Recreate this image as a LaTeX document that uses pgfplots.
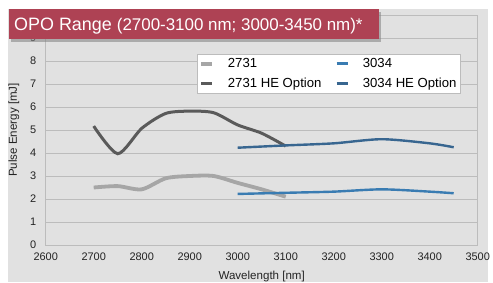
\documentclass[border=0pt]{standalone}
\usepackage{pgfplots}
\pgfplotsset{compat=1.18}
\usepackage{fontspec}
\setmainfont{Liberation Sans}
\usetikzlibrary{shadows}
\definecolor{bgpanel}{RGB}{225,225,225}
\definecolor{gridc}{RGB}{188,188,188}
\definecolor{titlered}{RGB}{174,66,84}
\definecolor{lgray}{RGB}{166,166,166}
\definecolor{dgray}{RGB}{90,90,90}
\definecolor{lblue}{RGB}{58,124,178}
\definecolor{dblue}{RGB}{56,102,144}
\definecolor{txt}{RGB}{35,35,35}
\begin{document}
\begin{tikzpicture}[x=1bp,y=1bp]
\path[use as bounding box] (0,0) rectangle (493,282);
\fill[white] (0,0) rectangle (493,282);
\fill[bgpanel] (8,0) rectangle (488,273);
\begin{axis}[
  at={(45.7bp,37bp)}, anchor=south west,
  scale only axis, width=432bp, height=230bp,
  xmin=2600, xmax=3500, ymin=0, ymax=10,
  xtick={2600,2700,...,3500},
  ytick={0,1,...,9},
  major tick length=0pt,
  ymajorgrids, grid style={gridc, line width=0.9pt},
  axis line style={gridc, line width=0.9pt},
  tick label style={font=\fontsize{11}{13}\selectfont, text=txt},
  /pgf/number format/assume math mode=true,
  /pgf/number format/1000 sep={},
  xticklabel style={yshift=-4bp},
  yticklabel style={xshift=-6bp},
  xlabel={Wavelength [nm]}, ylabel={Pulse Energy [mJ]},
  label style={font=\fontsize{11.6}{14}\selectfont, text=txt},
  xlabel style={at={(axis description cs:0.5,0)}, anchor=base, yshift=-34.2bp},
  ylabel style={at={(axis description cs:-0.0734,0.5)}, anchor=center},
  legend columns=2,
  legend cell align=left,
  legend style={at={(rel axis cs:0.350,0.830)}, anchor=north west,
    draw=gridc, fill=white, font=\fontsize{13.2}{15}\selectfont,
    inner xsep=2bp, inner ysep=2bp, row sep=5bp,
    /tikz/every odd column/.append style={column sep=12bp},
    /tikz/every even column/.append style={column sep=12bp}},
  legend image code/.code={\draw[#1] (0bp,0bp) -- (11bp,0bp);},
  every axis plot/.append style={smooth, tension=0.45},
]
\addplot[lgray, line width=3.8bp] coordinates {(2700,2.5) (2750,2.56) (2800,2.42) (2850,2.9) (2900,3.0) (2950,3.0) (3000,2.7) (3050,2.42) (3100,2.1)};
\addlegendentry{2731}
\addplot[lblue, line width=2.4bp] coordinates {(3000,2.22) (3100,2.27) (3200,2.32) (3300,2.42) (3400,2.32) (3450,2.25)};
\addlegendentry{3034}
\addplot[dgray, line width=3bp] coordinates {(2700,5.17) (2750,3.97) (2800,5.07) (2850,5.72) (2900,5.82) (2950,5.75) (3000,5.22) (3050,4.86) (3100,4.3)};
\addlegendentry{2731 HE Option}
\addplot[dblue, line width=2.4bp] coordinates {(3000,4.23) (3100,4.33) (3200,4.42) (3300,4.6) (3400,4.42) (3450,4.25)};
\addlegendentry{3034 HE Option}
\end{axis}
\fill[titlered, drop shadow={opacity=0.55, shadow xshift=2bp, shadow yshift=-3bp}] (9,243) rectangle (379,273);
\node[anchor=base west, text=white, inner sep=0pt] at (14,251.5) {\fontsize{18}{20}\selectfont OPO Range \fontsize{17}{19}\selectfont(2700-3100 nm; 3000-3450 nm)*};
\end{tikzpicture}
\end{document}
